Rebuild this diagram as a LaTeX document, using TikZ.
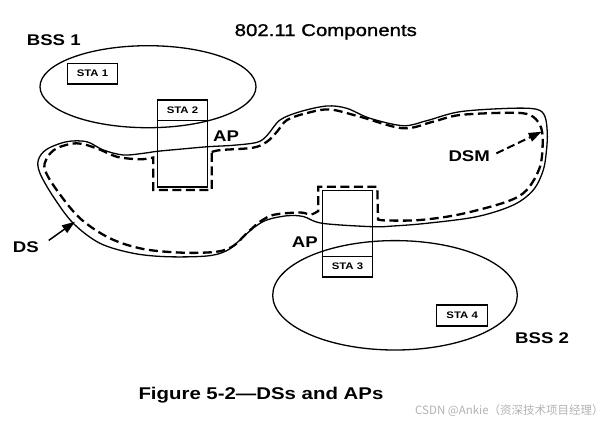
\documentclass[tikz,border=0pt]{standalone}
\usepackage{fontspec}
\setmainfont{Liberation Sans}
\newfontfamily\arl[FakeStretch=1.2]{Liberation Sans}
\newfontfamily\arlt[FakeStretch=1.2,FakeBold=1.3]{Liberation Sans}
\newfontfamily\cjk{Noto Sans CJK SC}
\usetikzlibrary{shapes.geometric,arrows.meta}
\tikzset{
  thinline/.style={line width=1.3pt},
  dsmline/.style={line width=2.3pt, dash pattern=on 9pt off 4.5pt},
  stabox/.style={draw, line width=1.5pt, minimum width=50pt, minimum height=20.5pt, inner sep=0pt, outer sep=0pt,
    font=\arl\bfseries\fontsize{9.5}{10}\selectfont},
  apbox/.style={draw, line width=1.5pt, minimum width=50pt, inner sep=0pt, outer sep=0pt},
  bss/.style={draw, ellipse, thinline, inner sep=0pt},
  lbl/.style={inner sep=0pt, font=\arl\bfseries\fontsize{15.5}{16}\selectfont},
  tip/.style={-{Triangle[length=13pt,width=9pt]}},
}
\begin{document}
\begin{tikzpicture}[x=1pt,y=-1pt]
\useasboundingbox (0,0) rectangle (610,421);
% title
\node[inner sep=0pt, anchor=base, font=\arlt\fontsize{17}{18}\selectfont] (title) at (325.8,36) {802.11 Components};
% BSS ellipses
\node[bss, minimum width=216pt, minimum height=82pt] (bss1) at (148,86.7) {};
\node[bss, minimum width=244.6pt, minimum height=109.4pt] (bss2) at (395,295.3) {};
% DS solid contour
\draw[thinline] plot[smooth cycle, tension=0.55] coordinates {
 (157.3,151.3) (182,149) (207.7,146.7) (233,145.3) (257,142.3) (267,135.5) (280,120) (300,111.7)
 (326.7,106) (346.7,108.3) (370,118.3) (403.3,125.7) (426.7,120.7) (460,111.7) (510,108.3)
 (536.7,109.3) (545,116.7) (547.3,133.3) (546.5,150) (543.3,170) (533.3,190) (513.3,205) (476.7,216.7)
 (426.7,223.3) (393.3,226) (372.3,226.7) (322.3,223.3) (303.3,216.5) (286.7,215.8) (266.7,220)
 (253.3,228) (240,240) (226.7,250.7) (206.7,256) (166.7,256.7) (133.3,253.3) (100,243.3)
 (73.3,223.3) (53.3,196.7) (40,173.3) (38.3,160) (46.7,149.3) (66.7,141.7) (86.7,141.7)
 (103.3,150) (123.3,155) (143.3,153.3)};
% DSM dashed contour
\draw[dsmline] (211.7,152) -- plot[smooth, tension=0.55] coordinates {
 (211.7,152) (221,150) (253,147.7) (267,141.7) (277,131.7) (287,120) (307,113) (330,109.5)
 (360,116.7) (403,128.3) (433,121.7) (460,115) (510,112.7) (530,115) (540,125) (542.7,140)
 (540,166.7) (526.7,190) (506.7,201.7) (460,214.3) (420,220) (386.7,220.5) (378,219.5)}
 -- (377.3,186.7) -- (318.3,186.7) -- (318.3,211)
 -- plot[smooth, tension=0.55] coordinates {
 (318.3,211) (311,214.5) (303,212.7) (293,212.7) (273,215) (260,221.7) (246.7,233.3)
 (233.3,246) (216.7,251.7) (183.3,252.7) (143.3,249) (110,238.3) (80,218.3) (56.7,190)
 (45,170) (46.7,158.3) (56.7,148.3) (76.7,143.3) (96.7,148.3) (116.7,156.7) (140,159.3) (153.3,157.5)}
 -- (153.3,190) -- (211.7,190) -- cycle;
% stations and access points
\node[stabox] (sta1) at (92.5,73.7) {STA 1};
\node[stabox] (sta2) at (182.5,110) {STA 2};
\node[apbox, minimum height=66.7pt, anchor=north] (ap1) at (sta2.south) {};
\node[stabox] (sta3) at (347.5,266.5) {STA 3};
\node[apbox, minimum height=65.8pt, anchor=south] (ap2) at (sta3.north) {};
\node[stabox, minimum width=51pt, minimum height=21pt] (sta4) at (462.2,315.5) {STA 4};
% labels
\node[lbl, anchor=base west] (bss1lbl) at (26.7,45) {BSS 1};
\node[lbl, anchor=base west] (ap1lbl) at (213,141.7) {AP};
\node[lbl, anchor=base west] (ap2lbl) at (291.7,247.3) {AP};
\node[lbl, anchor=base west] (dsm) at (448.3,161.7) {DSM};
\node[lbl, anchor=base west] (ds) at (12.7,252.7) {DS};
\node[lbl, anchor=base west] (bss2lbl) at (515,343.5) {BSS 2};
% arrows
\coordinate (dstip) at (75,221.7);
\coordinate (dsmtip) at (541.7,131.7);
\draw[line width=1.5pt, tip, shorten <=12pt] (ds.east) -- (dstip);
\draw[line width=2pt, dash pattern=on 8pt off 4pt, tip, shorten <=7pt] (dsm.east) -- (dsmtip);
% caption
\node[inner sep=0pt, anchor=base west, font=\arl\bfseries\fontsize{17}{18}\selectfont] (caption) at (138.3,399.3) {Figure 5-2—DSs and APs};
% watermark
\node[inner sep=0pt, anchor=base west, text=black!30, font=\cjk\fontsize{11.5}{12}\selectfont] (wm) at (415,414.5) {CSDN @Ankie（资深技术项目经理）};
\end{tikzpicture}
\end{document}
